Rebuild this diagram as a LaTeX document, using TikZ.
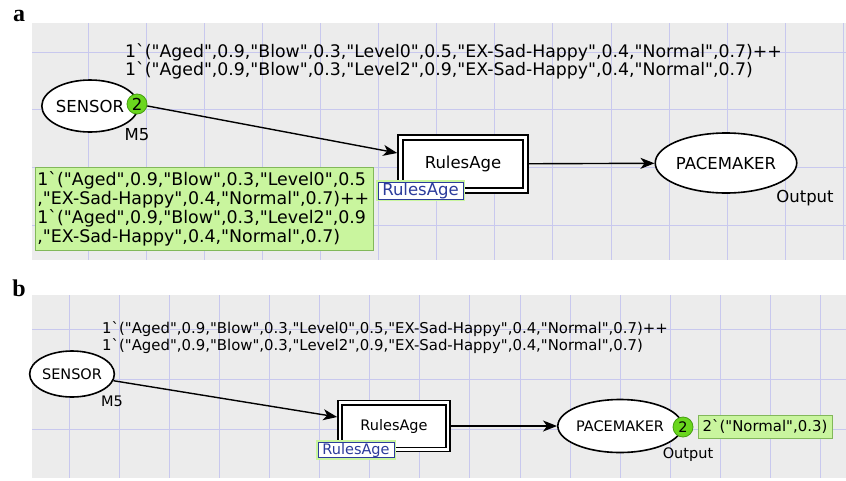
\documentclass[tikz,border=0pt]{standalone}
\usepackage{fontspec}
\setmainfont{DejaVu Sans}[Ligatures=TeXOff]
\newfontfamily\cpn{DejaVu Sans}[Ligatures=TeXOff]
\newfontfamily\panelfont{Liberation Serif}
\usetikzlibrary{arrows.meta,shapes.geometric}
\newcommand\bq{\char"0060\relax}
\newcommand\fa{\cpn\fontsize{16.5}{18}\selectfont}
\newcommand\fai{\cpn\fontsize{17.3}{18}\selectfont}
\newcommand\fb{\cpn\fontsize{14.5}{17}\selectfont}
\newcommand\fbi{\cpn\fontsize{14.9}{17}\selectfont}
\definecolor{bggray}{HTML}{ECECEC}
\definecolor{gridc}{HTML}{C8C8EE}
\definecolor{tokfill}{HTML}{6AD61E}
\definecolor{tokdraw}{HTML}{46A010}
\definecolor{markfill}{HTML}{C9F59E}
\definecolor{markdraw}{HTML}{82B85A}
\definecolor{lblblue}{HTML}{2B3B9B}
\tikzset{
  place/.style={draw, ellipse, line width=1.6pt, fill=white, inner sep=0pt},
  trans/.style={draw, rectangle, line width=1.6pt, fill=white, inner sep=0pt},
  token/.style={circle, fill=tokfill, draw=tokdraw, line width=0.8pt, minimum size=20pt, inner sep=0pt},
  markbox/.style={rectangle, fill=markfill, draw=markdraw, line width=0.8pt},
  lblbox/.style={rectangle, draw=lblblue, fill=white, text=lblblue, line width=1pt, inner sep=0.5pt,
                 preaction={draw=markfill, line width=4pt}},
  arc/.style={line width=1.4pt, -{Stealth[length=14pt,width=11pt,inset=4pt]}},
  gridline/.style={gridc, line width=0.8pt},
  plain/.style={inner sep=0pt}
}
\begin{document}
\begin{tikzpicture}[x=1pt,y=-1pt]
\useasboundingbox (0,0) rectangle (846,480);
\fill[white] (0,0) rectangle (846,480);
% ---------- panel a ----------
\fill[bggray] (32,23) rectangle (846,260);
\foreach \k in {0,...,13} \draw[gridline] (88+58.1*\k,23) -- (88+58.1*\k,260);
\foreach \yy in {52,109.5,167,225} \draw[gridline] (32,\yy) -- (846,\yy);
\node[font=\panelfont\bfseries\fontsize{24}{24}\selectfont] (la) at (19,16) {a};

\node[plain, anchor=west, align=left, font=\fai] (insA) at (125,61)
  {1\bq("Aged",0.9,"Blow",0.3,"Level0",0.5,"EX-Sad-Happy",0.4,"Normal",0.7)++\\
   1\bq("Aged",0.9,"Blow",0.3,"Level2",0.9,"EX-Sad-Happy",0.4,"Normal",0.7)};

\node[place, minimum width=84pt, minimum height=52pt, font=\fa] (sensA) at (90,106) {SENSOR};
\node[token, font=\fa] (tokA) at (137,104) {2};
\node[plain, font=\fa] (m5A) at (137,135) {M5};

\node[trans, minimum width=130pt, minimum height=58pt, font=\fa] (tA) at (463,164) {RulesAge};
\draw[line width=1.6pt] ([shift={(6pt,-6pt)}]tA.north west) rectangle ([shift={(-6pt,6pt)}]tA.south east);

\node[place, minimum width=135pt, minimum height=60pt, font=\fa] (pA) at (726,163) {PACEMAKER};
\node[plain, font=\fa] (outA) at (805,198) {Output};

\draw[arc] (tokA) -- ([yshift=11pt]tA.west);
\draw[arc] (tA) -- (pA);

\node[markbox, anchor=north west, align=left, text width=334pt, inner xsep=2pt, inner ysep=3pt,
      minimum height=83pt, font=\cpn\fontsize{17.4}{19}\selectfont] (gA) at (35,167)
  {1\bq("Aged",0.9,"Blow",0.3,"Level0",0.5\\
   ,"EX-Sad-Happy",0.4,"Normal",0.7)++\\
   1\bq("Aged",0.9,"Blow",0.3,"Level2",0.9\\
   ,"EX-Sad-Happy",0.4,"Normal",0.7)};
\node[lblbox, minimum width=85pt, minimum height=17pt, font=\fa] (lA) at (420.5,190.5) {RulesAge};

% ---------- panel b ----------
\fill[bggray] (32,295) rectangle (846,478);
\foreach \k in {0,...,15} \draw[gridline] (69+50.1*\k,295) -- (69+50.1*\k,478);
\foreach \yy in {329,379,429} \draw[gridline] (32,\yy) -- (846,\yy);
\node[font=\panelfont\bfseries\fontsize{24}{24}\selectfont] (lb) at (19,288) {b};

\node[plain, anchor=west, align=left, font=\fbi] (insB) at (102,337.5)
  {1\bq("Aged",0.9,"Blow",0.3,"Level0",0.5,"EX-Sad-Happy",0.4,"Normal",0.7)++\\
   1\bq("Aged",0.9,"Blow",0.3,"Level2",0.9,"EX-Sad-Happy",0.4,"Normal",0.7)};

\node[place, minimum width=74pt, minimum height=46pt, font=\fb] (sensB) at (72,374) {SENSOR};
\node[plain, font=\fb] (m5B) at (112,401) {M5};

\node[trans, minimum width=112pt, minimum height=51pt, font=\fb] (tB) at (394,426) {RulesAge};
\draw[line width=1.6pt] ([shift={(5pt,-5pt)}]tB.north west) rectangle ([shift={(-5pt,5pt)}]tB.south east);

\node[place, minimum width=115pt, minimum height=53pt, font=\fb] (pB) at (620,426) {PACEMAKER};
\node[token, font=\fb] (tokB) at (683,427) {2};
\node[plain, font=\fb] (outB) at (688,455) {Output};

\node[markbox, minimum width=134pt, minimum height=23pt, inner sep=1pt, font=\fbi] (gB) at (765,426.5)
  {2\bq("Normal",0.3)};

\draw[arc] (sensB) -- ([yshift=9pt]tB.west);
\draw[arc] (tB) -- (pB);

\node[lblbox, minimum width=76pt, minimum height=15pt, font=\fb] (lB) at (356,450) {RulesAge};
\end{tikzpicture}
\end{document}
